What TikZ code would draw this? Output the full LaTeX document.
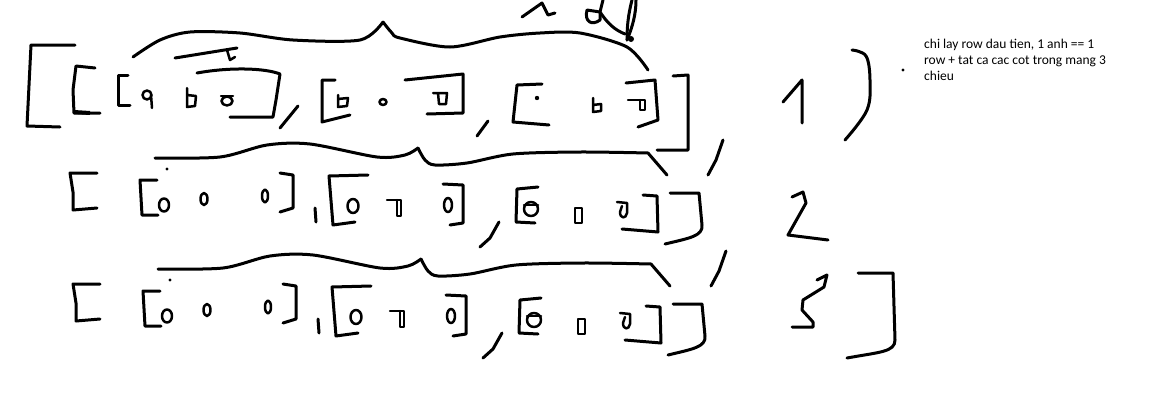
\documentclass[tikz,border=0pt]{standalone}
\usepackage{fontspec}
\newfontfamily\notefont{Carlito}
\tikzset{
  ink/.style={line width=3pt, line cap=round, line join=round},
  glyph/.style={line width=2.5pt, line cap=round, line join=round},
}
% one of the two lower rows, drawn at the place of row 2
\newcommand\lowerrow{%
  \draw[ink] (97,173) -- (70,173) -- (73,192) -- (73,210) -- (97,208);
  % first group
  \draw[ink] (157,180) -- (140,180) -- (142,215) -- (158,215);
  \fill (167,169) circle (1.6);
  \draw[glyph] (164,205) ellipse (5 and 6.5);
  \draw[glyph] (204,199) ellipse (3.5 and 6);
  \draw[glyph] (265,196) ellipse (3 and 6.5);
  \draw[ink] (280,173) -- (293,175) -- (293,208) -- (280,212);
  \draw[ink] (315,208) -- (316,222);
  % second group
  \draw[ink] (368,175) -- (329,176) -- (333,225) -- (355,222);
  \draw[glyph] (353,206) ellipse (5.5 and 7);
  \draw[glyph] (387,200) -- (397,200) -- (401,200) -- (401,216) -- (397,216) -- (397,200);
  \draw[glyph] (448,205) ellipse (4 and 7);
  \draw[ink] (443,184) -- (463,185) -- (463,223) -- (450,225);
  \draw[ink] (499,222) -- (490,238) -- (480,247);
  % third group
  \draw[ink] (538,187) -- (517,189) -- (516,222) -- (535,223);
  \draw[glyph] (531,209) ellipse (7 and 7);
  \draw[glyph] (524,205) -- (538,205);
  \draw[glyph] (575,208) rectangle (582,223);
  \draw[glyph] (617,202) -- (627,203) -- (627,213) .. controls (626,219) and (620,219) .. (620,212) -- (622,206);
  \draw[ink] (643,195) -- (657,196) -- (658,232) -- (622,229);
  \draw[ink] (670,193) -- (699,193) -- (702,225) .. controls (703,236) and (690,238) .. (665,244);
  % brace over the row
  \draw[ink] plot[smooth, tension=0.5] coordinates {(155,158) (220,157) (267,145) (310,144) (377,157) (405,155) (418,148)};
  \draw[ink] plot[smooth, tension=0.5] coordinates {(418,148) (425,160) (435,165) (467,163) (513,154) (580,152) (648,153)} -- (667,175);
  \draw[ink] (723,140) -- (716,160) -- (708,175);
}
\begin{document}
\begin{tikzpicture}[x=1pt, y=-1pt]
\useasboundingbox (0,0) rectangle (1161,410);
% row 1
\draw[ink] (75,45) -- (31,45) -- (27,126) -- (60,127);
\draw[ink] (95,68) -- (76,66) -- (73,90) -- (74,113) -- (100,113);
\draw[line width=4pt] (74,112) -- (90,113);
% first group
\draw[ink] (128,75) -- (118,75) -- (118,105) -- (130,105);
\draw[glyph] (147,95) circle (4.5);
\draw[glyph] (151,95) -- (152,108);
\draw[glyph] (187,88) -- (187,107) -- (195,106) -- (196,96) -- (187,95);
\draw[glyph] (221,96) -- (233,96);
\draw[glyph] (227,101) ellipse (5.5 and 4.5);
\draw[ink] (197,73) .. controls (230,67) and (265,68) .. (280,74) -- (276,100) -- (273,117) -- (230,117);
\draw[ink] (175,58) -- (237,48);
\draw[glyph] (227,50) -- (230,60) -- (235,57);
\draw[ink] (298,106) -- (280,128);
% second group
\draw[ink] (335,80) -- (322,80) -- (322,122) -- (350,115);
\draw[glyph] (338,95) -- (338,107) -- (347,106) -- (348,98) -- (338,99);
\draw[glyph] (383,102) ellipse (3.5 and 3);
\draw[glyph] (433,93) -- (447,93) -- (446,104) -- (439,104) -- (438,93);
\draw[ink] (405,80) -- (463,74) -- (463,113) -- (427,114);
\draw[ink] (488,121) -- (477,136);
% third group
\draw[ink] (542,84) -- (517,85) -- (513,122) -- (549,125);
\fill (537,98) circle (2.2);
\draw[glyph] (593,98) -- (593,112) -- (601,111) -- (601,104) -- (593,105);
\draw[glyph] (628,100) -- (645,100) -- (645,110) -- (640,110) -- (640,100);
\draw[ink] (626,83) -- (655,80) -- (658,120) -- (638,127);
\draw[ink] (673,76) -- (688,75) -- (688,150) -- (657,150);
% brace over row 1
\draw[ink] plot[smooth, tension=0.5] coordinates {(133,57) (160,40) (190,32) (240,33) (293,40) (360,40) (383,22)};
\draw[ink] plot[smooth, tension=0.5] coordinates {(383,22) (392,33) (400,38) (450,47) (500,37) (540,33) (580,33) (627,47) (648,70)};
% scribbles above
\draw[ink] (522,17) -- (542,3) -- (548,15) -- (555,13);
\draw[ink] (600,12) -- (587,10) .. controls (584,22) and (592,26) .. (600,20) -- (600,12);
\draw[ink] (603,0) -- (600,12) .. controls (608,24) and (615,30) .. (625,34);
\draw[ink] (627,40) .. controls (627,20) and (630,8) .. (632,0);
\draw[ink] (636,0) .. controls (636,15) and (632,28) .. (627,40);
\fill (631,39) circle (3);
\draw[ink] (783,102) -- (802,80) -- (802,123);
\draw[ink] plot[smooth, tension=0.6] coordinates {(852,50) (866,56) (870,80) (867,110) (845,140)};
% note
\fill (903,70) circle (1.6);
\node[anchor=north west, align=left, inner sep=0pt, font=\notefont\fontsize{13.5}{16}\selectfont] (note) at (924,39)
  {chi lay row dau tien, 1 anh == 1\\row + tat ca cac cot trong mang 3\\chieu};
% row 2
\lowerrow
\draw[ink] (792,197) -- (803,192) -- (806,203) -- (788,235) -- (828,240);
% row 3
\begin{scope}[shift={(3,111)}]
  \lowerrow
\end{scope}
\draw[ink] (817,280) -- (827,275) -- (824,287) -- (803,300) -- (802,310) -- (813,322) -- (813,327) -- (792,327);
\draw[ink] (858,273) -- (893,273) -- (895,340) .. controls (895,352) and (880,352) .. (847,358);
\end{tikzpicture}
\end{document}
